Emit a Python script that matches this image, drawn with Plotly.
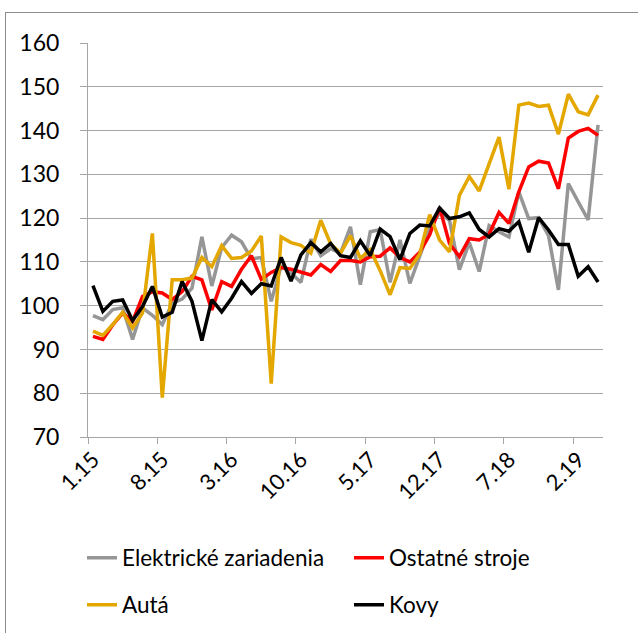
import base64
import plotly.graph_objects as go

months = ["1.15","2.15","3.15","4.15","5.15","6.15","7.15","8.15","9.15","10.15","11.15","12.15",
          "1.16","2.16","3.16","4.16","5.16","6.16","7.16","8.16","9.16","10.16","11.16","12.16",
          "1.17","2.17","3.17","4.17","5.17","6.17","7.17","8.17","9.17","10.17","11.17","12.17",
          "1.18","2.18","3.18","4.18","5.18","6.18","7.18","8.18","9.18","10.18","11.18","12.18",
          "1.19","2.19","3.19","4.19"]

elektricke = [97.7, 96.8, 99.1, 99.5, 92.3, 99.5, 97.8, 95.7, 100.5, 101.5, 104.0, 115.7,
              104.5, 113.3, 116.1, 114.6, 110.7, 111.0, 101.0, 109.0, 107.5, 105.3, 115.2, 111.4,
              113.0, 112.0, 118.0, 104.8, 116.9, 117.4, 105.3, 115.0, 105.1, 111.5, 117.6, 121.2,
              119.5, 108.2, 114.4, 107.8, 118.3, 116.9, 115.7, 126.0, 119.9, 120.1, 116.0, 103.6,
              127.9, 123.7, 119.6, 141.3]
ostatne = [93.0, 92.3, 95.6, 98.3, 96.4, 102.1, 103.2, 102.9, 101.4, 103.2, 106.7, 105.9,
           99.0, 105.5, 104.4, 108.3, 111.4, 106.0, 107.6, 108.7, 108.3, 107.6, 107.0, 109.4,
           107.8, 110.3, 110.3, 110.0, 111.2, 111.3, 113.2, 111.0, 110.0, 112.2, 116.2, 122.4,
           114.2, 111.2, 115.3, 115.0, 116.3, 121.3, 118.8, 126.0, 131.7, 133.0, 132.6, 126.7,
           138.3, 139.8, 140.5, 138.9]
auta = [94.2, 93.2, 95.7, 98.5, 94.9, 98.3, 116.5, 79.0, 105.9, 105.9, 106.3, 111.0,
        108.9, 113.7, 110.8, 111.0, 112.5, 115.9, 82.2, 115.7, 114.4, 113.8, 112.0, 119.5,
        114.1, 112.0, 116.0, 110.8, 112.8, 108.0, 102.5, 108.7, 108.5, 111.8, 120.8, 115.0,
        112.3, 125.2, 129.5, 126.2, 132.4, 138.5, 126.6, 145.8, 146.3, 145.5, 145.8, 139.2,
        148.3, 144.3, 143.6, 148.1]
kovy = [104.6, 98.7, 101.0, 101.3, 96.6, 99.8, 104.4, 97.4, 98.5, 105.5, 101.0, 92.0,
        101.4, 98.6, 101.7, 105.5, 102.8, 105.0, 104.5, 111.0, 105.6, 111.6, 114.4, 112.3,
        114.2, 111.4, 111.0, 114.8, 111.4, 117.5, 115.8, 110.5, 116.5, 118.4, 118.2, 122.3,
        119.9, 120.3, 121.2, 117.4, 115.7, 117.6, 117.0, 119.2, 112.2, 120.1, 117.3, 114.0,
        114.0, 106.7, 108.9, 105.4]

series_names = ["Elektrické zariadenia", "Ostatné stroje", "Autá", "Kovy"]
series_values = [elektricke, ostatne, auta, kovy]
series_colors = ["#969696", "#FF0000", "#E3A700", "#000000"]
series_legend = ["legend", "legend", "legend2", "legend2"]

label_step = 7
xs = list(range(len(months)))
tick_vals = xs[::label_step]
tick_text = months[::label_step]
boundary_ticks = [v - 0.5 for v in tick_vals]

FONT = "Lato, 'Open Sans', sans-serif"

fig = go.Figure()
for name, vals, col, lg in zip(series_names, series_values, series_colors, series_legend):
    fig.add_trace(go.Scatter(x=xs, y=vals, mode="lines", name=name, legend=lg,
                             line=dict(color=col, width=3.5)))

W, H = 638, 633
ml, mr, mt, mb = 88, 35, 43, 196
pw, ph = W - ml - mr, H - mt - mb

def px_x(p):
    return (p - ml) / pw

def px_y(p):
    return (H - mb - p) / ph

# chart-area frame (outer border of the embedded chart)
frame_svg = ('<svg xmlns="http://www.w3.org/2000/svg" width="640" height="640">'
             '<rect x="0.5" y="0.5" width="700" height="700" fill="none" '
             'stroke="#8C8C8C" stroke-width="1"/></svg>')
frame_src = "data:image/svg+xml;base64," + base64.b64encode(frame_svg.encode()).decode()

fig.update_layout(
    width=W, height=H,
    margin=dict(l=ml, r=mr, t=mt, b=mb, autoexpand=False),
    paper_bgcolor="white", plot_bgcolor="white",
    font=dict(family=FONT, size=22, color="#000000"),
    legend=dict(orientation="h", x=px_x(82), y=px_y(558), xanchor="left", yanchor="middle",
                entrywidth=222, font=dict(size=22.5), bgcolor="rgba(0,0,0,0)", tracegroupgap=0),
    legend2=dict(orientation="h", x=px_x(82), y=px_y(605), xanchor="left", yanchor="middle",
                 entrywidth=222, font=dict(size=22.5), bgcolor="rgba(0,0,0,0)", tracegroupgap=0),
    images=[dict(source=frame_src, xref="paper", yref="paper",
                 x=px_x(5), y=px_y(12), sizex=640 / pw, sizey=640 / ph,
                 xanchor="left", yanchor="top", sizing="stretch", layer="above")],
)

fig.update_xaxes(
    range=[-0.5, len(months) - 0.5],
    tickmode="array", tickvals=tick_vals, ticktext=tick_text,
    tickangle=-45, ticks="", showgrid=False, zeroline=False,
    showline=True, linecolor="#A6A6A6", linewidth=1,
    tickfont=dict(size=22, family=FONT),
    minor=dict(tickmode="array", tickvals=boundary_ticks, ticks="outside", ticklen=6,
               tickcolor="#A6A6A6", showgrid=False),
)
fig.update_yaxes(
    range=[70, 160], dtick=10, tick0=70,
    showgrid=True, gridcolor="#A6A6A6", gridwidth=1,
    zeroline=False, showline=True, linecolor="#A6A6A6", linewidth=1,
    ticks="outside", ticklen=7, tickcolor="#A6A6A6",
    ticklabelstandoff=16,
    tickfont=dict(size=23, family=FONT),
)

fig.write_html("out.html", config={"displayModeBar": False},
               post_script="document.body.style.margin='0';document.body.style.overflow='hidden';")
